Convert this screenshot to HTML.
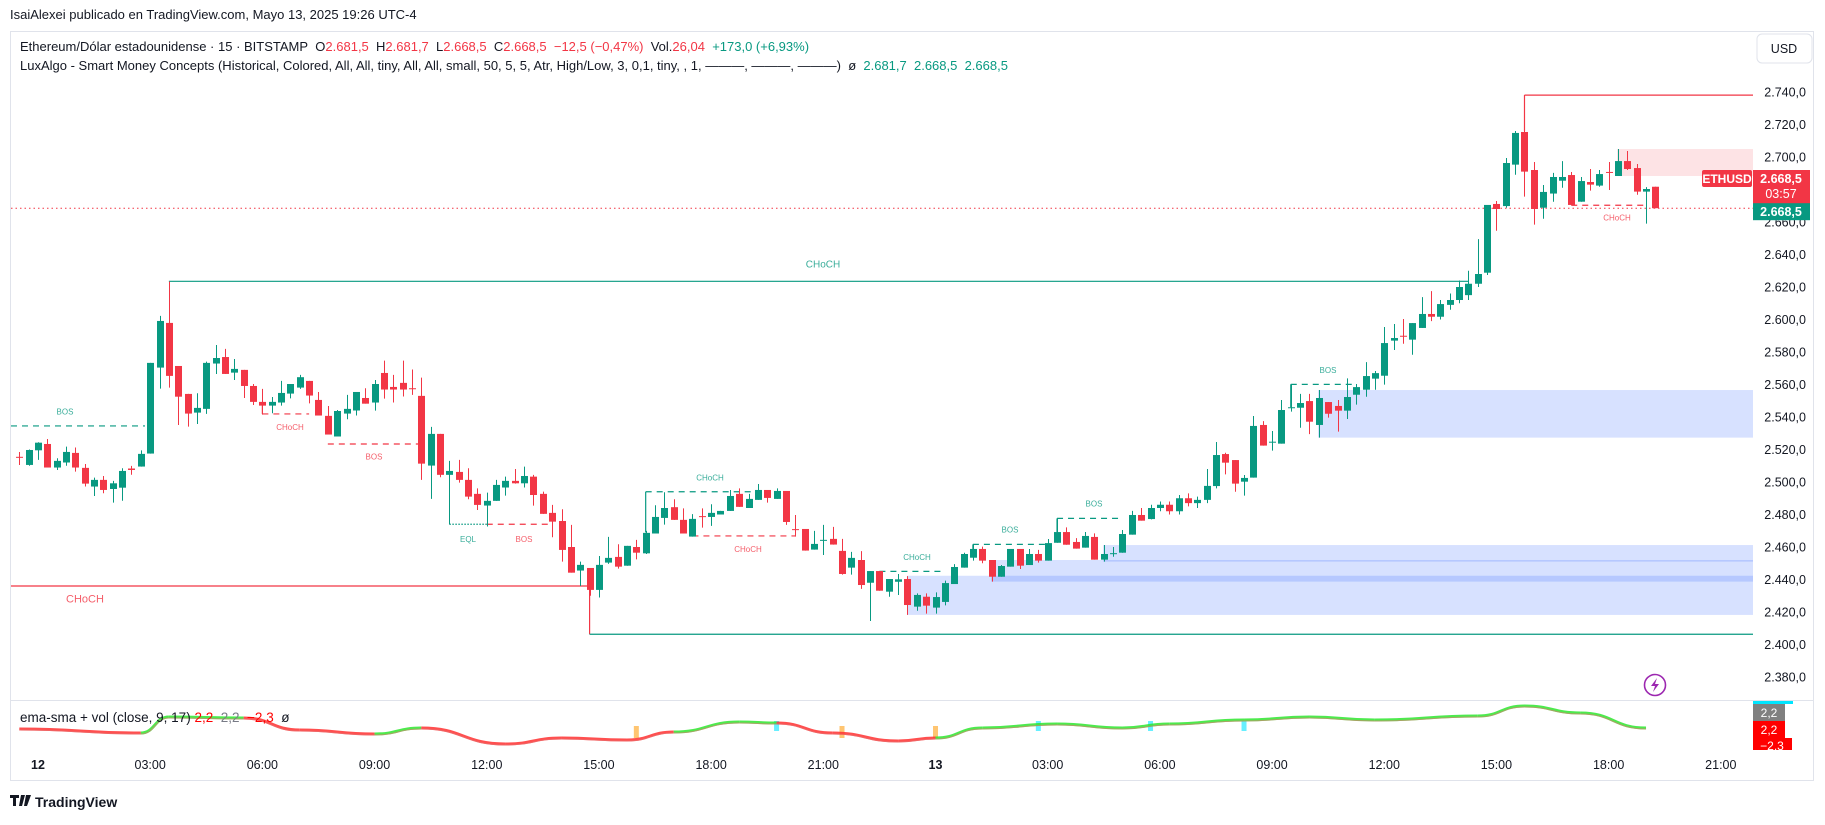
<!DOCTYPE html>
<html><head><meta charset="utf-8">
<style>
html,body{margin:0;padding:0;background:#fff;}
body{width:1825px;height:820px;overflow:hidden;position:relative;font-family:"Liberation Sans",sans-serif;}
svg text{font-family:"Liberation Sans",sans-serif;}
</style></head>
<body>
<svg id="chart" width="1825" height="820" viewBox="0 0 1825 820" xmlns="http://www.w3.org/2000/svg">
  <text x="10" y="19" font-size="13" fill="#131722">IsaiAlexei publicado en TradingView.com, Mayo 13, 2025 19:26 UTC-4</text>
  <rect x="10.5" y="31.5" width="1803" height="749" fill="none" stroke="#e0e3eb" stroke-width="1"/>
  <g font-size="13">
    <text x="20" y="51" fill="#131722">Ethereum/Dólar estadounidense · 15 · BITSTAMP&#160;&#160;O<tspan fill="#f23645">2.681,5</tspan>&#160;&#160;H<tspan fill="#f23645">2.681,7</tspan>&#160;&#160;L<tspan fill="#f23645">2.668,5</tspan>&#160;&#160;C<tspan fill="#f23645">2.668,5</tspan>&#160;&#160;<tspan fill="#f23645">−12,5 (−0,47%)</tspan>&#160;&#160;Vol.<tspan fill="#f23645">26,04</tspan>&#160;&#160;<tspan fill="#089981">+173,0 (+6,93%)</tspan></text>
  </g>
  <g font-size="13">
    <text x="20" y="70" fill="#131722">LuxAlgo - Smart Money Concepts (Historical, Colored, All, All, tiny, All, All, small, 50, 5, 5, Atr, High/Low, 3, 0,1, tiny, , 1, ———, ———, ———)&#160;&#160;ø&#160;&#160;<tspan fill="#089981">2.681,7&#160;&#160;2.668,5&#160;&#160;2.668,5</tspan></text>
  </g>
  <g>
    <rect x="1757" y="34" width="55" height="29" rx="5" fill="#fff" stroke="#e0e3eb"/>
    <text x="1784" y="53" font-size="12.5" text-anchor="middle" fill="#131722">USD</text>
  </g>
  <g id="zones"></g>
  <g id="smc"></g>
  <g id="candles"></g>
  <g id="yaxis"></g>
  <g id="xaxis"></g>
  <line x1="11" y1="700.5" x2="1813" y2="700.5" stroke="#e0e3eb"/>
  <g id="ind"></g>
  <text x="20" y="722" font-size="13.5" fill="#131722">ema-sma + vol (close, 9, 17)&#160;<tspan fill="#ff0000">2,2</tspan>&#160;&#160;<tspan fill="#787b86">2,2</tspan>&#160;&#160;<tspan fill="#ff0000">−2,3</tspan>&#160;&#160;ø</text>
  <g>
    <rect x="1753" y="701" width="40" height="3" fill="#00e5ff"/>
    <rect x="1753" y="704" width="32" height="17" fill="#808080"/><text x="1769" y="717" font-size="12" fill="#fff" text-anchor="middle">2,2</text>
    <rect x="1753" y="721" width="32" height="17" fill="#ff0000"/><text x="1769" y="734" font-size="12" fill="#fff" text-anchor="middle">2,2</text>
    <rect x="1753" y="738" width="39" height="12" fill="#ff0000"/><text x="1772" y="750" font-size="12" fill="#fff" text-anchor="middle">−2,3</text>
  </g>
  <g>
    <circle cx="1655" cy="685" r="10.5" fill="none" stroke="#9c27b0" stroke-width="1.6"/>
    <path d="M1657 678 L1651 686 L1655 686 L1653 692 L1659 684 L1655 684 Z" fill="#9c27b0"/>
  </g>
  <g>
    <path d="M10 795 h9 v3 h-3 v8 h-3 v-8 h-3 z M21 795 h4 l-3 11 h-3 z M26 795 l-2 11 h3 l4 -11 z" fill="#131722"/>
    <text x="35" y="807" font-size="14" font-weight="bold" fill="#131722">TradingView</text>
  </g>
</svg>
<script>
const opens=[2515.5,2510.5,2519.5,2523.4,2508.9,2512,2517.9,2508.7,2497.2,2501.3,2495.7,2496.5,2508.3,2509.5,2517.5,2570.4,2597.9,2571.4,2554.2,2542.7,2545,2572.9,2576.9,2567.3,2569,2559.1,2549.3,2547,2548.9,2554.4,2558.1,2562.2,2550.5,2540.7,2528,2542.1,2544,2551.7,2548.9,2567.1,2558.5,2561,2557.7,2553,2510.1,2529.6,2504.4,2506.2,2501.3,2492.7,2485.5,2488.4,2496.6,2500.7,2499.2,2503.3,2492.7,2481,2476,2460,2445.5,2447.1,2433.6,2450.4,2453.9,2448.5,2460,2456.1,2468.3,2477.9,2484.5,2476.7,2466.4,2479,2478.5,2480,2482.2,2492.7,2484,2489,2495.1,2489.6,2494.5,2471,2471.1,2458.4,2464,2465,2457.6,2447.3,2452,2438,2445.2,2432.5,2438.6,2440.3,2423.3,2429.4,2422.7,2426.2,2437.2,2447.3,2453.4,2458.8,2452,2441.7,2447.9,2458.8,2448.9,2455.7,2451.6,2462.6,2469.2,2463.1,2459.6,2466.2,2452.2,2455.6,2456.5,2467.6,2479.7,2477.2,2484,2486,2482,2490,2487,2489,2497.5,2517.2,2513.5,2500.2,2502.7,2535.1,2524.4,2523.6,2545.8,2545.7,2549.8,2535.1,2549.2,2546.8,2543.9,2553.7,2556.8,2563.6,2565.4,2587,2590,2587.6,2594.8,2603.4,2601.7,2609,2612,2615,2622,2628.8,2671.1,2669.8,2695.3,2715.4,2692,2668.8,2677.5,2685.4,2688.9,2672.5,2684.6,2682.4,2690.8,2688.3,2697.5,2693.2,2678.7,2681.7];
const highs=[2518.5,2520,2524.5,2526.5,2514.6,2521.8,2521.2,2511.1,2502.7,2503.7,2500.7,2508.5,2509.9,2519.5,2573.3,2602.2,2623.3,2571.4,2554.2,2554.6,2574.1,2584.3,2581.9,2575.7,2569,2560.3,2557.3,2552.3,2562.2,2560.3,2565.9,2562.2,2555.4,2546.8,2544.3,2553.6,2555.4,2557.7,2562.8,2574.7,2565.9,2574.7,2569.2,2564.2,2533.9,2529.6,2513,2513.6,2508.5,2496.1,2493.5,2501.3,2503.3,2508,2509.5,2504.4,2494.1,2485.9,2483.2,2473.6,2451,2447.1,2454.5,2466.2,2461.7,2460.7,2464.4,2469.9,2485.7,2493.7,2489.4,2483.8,2480.2,2483.8,2486.3,2482.2,2495.1,2496.1,2492.7,2498.8,2495.1,2496.1,2494.5,2479.7,2471.1,2469.9,2473.6,2472.4,2465,2457,2457.5,2445.2,2445.2,2440.3,2443.4,2442.1,2431.5,2431.5,2432.1,2439.3,2449.5,2456.5,2461.8,2460.2,2452,2448.9,2458.8,2458.8,2458.8,2458.2,2464.9,2477.6,2472.1,2465.5,2469.2,2468.4,2461.2,2460,2470.5,2482.2,2484,2486,2488,2488,2492,2493,2491,2508,2524.6,2518,2513.5,2504.3,2540.6,2537.5,2531.4,2550.5,2560.3,2554.2,2554.2,2556.6,2549.2,2550.5,2563.8,2560.3,2573.8,2568.3,2595.4,2597.2,2600.3,2597.8,2613.8,2617.5,2612,2616,2624,2630,2649.5,2670.5,2672.9,2699.4,2716,2738.1,2696.9,2682.8,2690.2,2697.5,2690.8,2687.7,2692.6,2692,2696.9,2704.9,2703.7,2695.7,2681.5,2681.7];
const lows=[2510.5,2510,2513.6,2508.9,2507.4,2510,2506.4,2497.2,2491.4,2493.1,2487.3,2488.5,2504.5,2509.5,2517.5,2557.5,2558.1,2535.1,2534.1,2535.7,2541.9,2566.5,2566.5,2562.8,2551.7,2547.4,2541.5,2542.3,2547,2551.5,2557.3,2548.4,2540.9,2529.2,2528,2538.6,2540.9,2548.2,2543.9,2551.3,2548.9,2552.6,2553.6,2501.3,2489.6,2502.9,2474,2499.6,2489.4,2482.8,2472.6,2488.4,2491.6,2499,2496.6,2485.5,2480.4,2466,2451,2444.2,2436,2430,2428.9,2449.6,2446.7,2448.5,2452.4,2455.7,2468.3,2473.8,2476.7,2468.3,2466.4,2471.9,2473,2480,2482.2,2484.7,2484,2489,2487.3,2489.6,2473.6,2466.4,2457.8,2458.4,2455.1,2461.5,2443,2443,2434.2,2414.5,2433.1,2429.4,2430.5,2418.2,2420.8,2419,2419,2424.1,2437.2,2447.3,2451.6,2450,2438.7,2441.7,2447.9,2446.5,2448.9,2450.4,2451.6,2462.6,2461.4,2459,2459.6,2452.2,2451,2454,2456.5,2467.6,2476.2,2477,2482,2480,2480,2485,2484,2487,2496.1,2504.7,2494,2491.6,2502.7,2522.4,2519.3,2523.6,2543.3,2533.4,2529.5,2527.3,2539.6,2531,2538.8,2547.6,2552.5,2556.8,2559.9,2581.2,2585.1,2578.3,2594.8,2599,2600,2606,2610,2612,2620,2627.4,2654.6,2668.8,2689.1,2675.6,2658.4,2662,2672.5,2681.1,2670.5,2672.5,2679.3,2681.7,2679.7,2688.3,2692,2676.8,2659,2668.5];
const closes=[2515,2519.7,2524.2,2508.9,2513,2518.5,2508.9,2499,2501.3,2495.1,2499.2,2506.8,2507.4,2517.3,2573.3,2599.1,2565.3,2552.5,2542.1,2545.6,2573.3,2576.3,2566.5,2569.6,2559.1,2549.3,2547,2549.3,2554.8,2560.3,2564.5,2553.2,2540.9,2529.2,2543.7,2545,2555.4,2548.2,2560.3,2556.9,2556.9,2556.9,2557.3,2511.3,2529.6,2504.4,2506.8,2501.3,2491,2485.9,2488.4,2498.2,2500.7,2499.2,2503.7,2492,2480.4,2475.6,2458.2,2444.2,2449,2433.6,2449,2453.3,2447.9,2460.7,2456.5,2468.7,2478.5,2484,2476.7,2468.3,2477.3,2478.6,2481,2482.2,2491.4,2484.7,2489.6,2495.1,2490.2,2494.5,2475.4,2470.5,2457.8,2461.9,2464.4,2461.5,2443.4,2453.3,2436.6,2445.2,2433.1,2440.3,2440.1,2424.3,2430.5,2423.9,2429.2,2437.8,2447.7,2455.7,2458.8,2451.6,2441.7,2448.3,2458.8,2448.5,2455.7,2451.6,2462.4,2469.2,2461.4,2459,2466.8,2452.2,2455.7,2456.2,2468,2479.7,2476.2,2484,2486,2482,2490,2487,2489,2497.6,2516.6,2511.9,2499,2502.5,2534.5,2522.4,2524.8,2544.3,2546,2548.6,2537.1,2551.7,2542,2543.9,2552.3,2558.4,2565.2,2567,2585.5,2588.6,2589.7,2597.8,2603.4,2601.7,2609.5,2612,2620,2622,2628,2670.5,2668,2696.3,2714.8,2691,2668,2678.5,2687.7,2687.7,2670.5,2685.2,2683,2689.5,2690.4,2697.5,2692.6,2678.7,2680.3,2668.5];
const priceTicks=[2380,2400,2420,2440,2460,2480,2500,2520,2540,2560,2580,2600,2620,2640,2660,2680,2700,2720,2740];
const timeLabels=["12","03:00","06:00","09:00","12:00","15:00","18:00","21:00","13","03:00","06:00","09:00","12:00","15:00","18:00","21:00"];
const timeLabelIdx=[2,14,26,38,50,62,74,86,98,110,122,134,146,158,170,182];
const indIdx=[0,13,16,24,30,38,43,52,58,65,70,77,81,87,94,98,103,111,118,123,131,138,145,156,161,167,174];
const indVals=[1,-3,13,12,0,-4,2,-14,-8,-10,-2,8,7,-3,-11,-8,2,6,2,6,10,13,10,14,24,17,2];
const indUp=[0,1,1,0,0,1,0,0,0,0,1,1,0,0,0,1,1,1,1,1,1,1,1,1,1,1];
const volOrangeIdx=[66,88,98];
const volCyanIdx=[81,109,121,131];

const NS="http://www.w3.org/2000/svg";
const PLOT_R=1753;
function x(i){return 19.3+i*9.349;}
function y(p){return 92+(2740-p)*1.625;}
function yi(v){return 730-v;}
function mk(tag,attrs,parent){const e=document.createElementNS(NS,tag);for(const k in attrs)e.setAttribute(k,attrs[k]);parent.appendChild(e);return e;}
const G="#089981",R="#f23645";

const zg=document.getElementById('zones');
const zoneDefs=[[907,2442.3,2418.2,'rgba(41,98,255,0.19)'],[991,2452,2438.7,'rgba(41,98,255,0.19)'],[1103,2461.2,2451,'rgba(41,98,255,0.19)'],[1318,2556.6,2527.3,'rgba(41,98,255,0.19)'],[1617,2704.9,2688.3,'rgba(242,54,69,0.14)']];
zoneDefs.forEach(z=>{
  const r=mk('rect',{x:z[0],y:y(z[1]),width:PLOT_R-z[0],height:y(z[2])-y(z[1]),fill:z[3]},zg);
  
  
});

const sg=document.getElementById('smc');
function hline(x1,x2,p,col,dash,name){
  const l=mk('line',{x1:x1,x2:x2,y1:y(p),y2:y(p),stroke:col,'stroke-width':1.2},sg);
  if(dash)l.setAttribute('stroke-dasharray',dash);
  
  
}
function vline(xx,p1,p2,col,name){
  const l=mk('line',{x1:xx,x2:xx,y1:y(p1),y2:y(p2),stroke:col,'stroke-width':1.2},sg);
  
  
}
function lab(xx,p,t,col,fs){
  const e=mk('text',{x:xx,y:y(p),'font-size':fs||8,fill:col,'text-anchor':'middle','fill-opacity':0.8},sg);
  e.textContent=t;
  
  
}
const D="6,5";
hline(11,145,2534.5,G,D,'bos-line');lab(65,2541.5,'BOS',G);
hline(11,x(61),2436,R,null,'choch-line');lab(85,2426,'CHoCH',R,11);
hline(x(16),x(155),2623.5,G,null,'choch-line-major');lab(823,2632,'CHoCH',G,10);
hline(x(26),x(31),2541.9,R,D,'choch-line');vline(x(26),2541.9,2547,R,'choch-tick');lab(290,2532,'CHoCH',R);
hline(x(33),x(43),2523.4,R,D,'bos-line');lab(374,2514,'BOS',R);
hline(x(46),x(50),2474,G,'1.5,1.5','eql-line');lab(468,2463,'EQL',G);
hline(x(50),x(57),2474,R,D,'bos-line');lab(524,2463,'BOS',R);
vline(x(61),2436,2406.3,R,'choch-vertical');
hline(x(61),PLOT_R,2406.3,G,null,'support-line');
hline(x(67),x(80),2494,G,D,'choch-line');vline(x(67),2469,2494,G,'choch-tick');lab(710,2501,'CHoCH',G);
hline(x(72),x(83),2466.8,R,D,'choch-line');lab(748,2457,'CHoCH',R);
hline(x(92),x(99),2445,G,D,'choch-line');lab(917,2452,'CHoCH',G);
hline(x(102),x(110),2461.6,G,D,'bos-line');vline(x(102),2458.8,2461.6,G,'bos-tick');lab(1010,2469,'BOS',G);
hline(x(111),x(118),2477.6,G,D,'bos-line');vline(x(111),2469.2,2477.6,G,'bos-tick');lab(1094,2485,'BOS',G);
hline(x(136),x(143),2560.1,G,D,'bos-line');vline(x(136),2546,2560.1,G,'bos-tick');lab(1328,2567,'BOS',G);
hline(x(166),x(174),2670.3,R,D,'choch-line');lab(1617,2661,'CHoCH',R);
vline(x(161),2716,2738.1,R,'top-vertical');
hline(x(161),PLOT_R,2738.1,R,null,'strong-high-line');
const cp=mk('line',{x1:11,x2:PLOT_R,y1:y(closes[closes.length-1]),y2:y(closes[closes.length-1]),stroke:R,'stroke-width':1,'stroke-dasharray':'1.5,3'},sg);



const cg=document.getElementById('candles');
for(let i=0;i<closes.length;i++){
  const up=closes[i]>=opens[i];const col=up?G:R;
  const g=mk('g',{},cg);
  
  
  const cx=Math.round(x(i))+0.5;
  mk('line',{x1:cx,x2:cx,y1:y(highs[i]),y2:y(lows[i]),stroke:col,'stroke-width':1},g);
  const t=y(Math.max(opens[i],closes[i])),b=y(Math.min(opens[i],closes[i]));
  mk('rect',{x:cx-3.5,y:t,width:7,height:Math.max(1,b-t),fill:col},g);
}

const ya=document.getElementById('yaxis');
priceTicks.forEach(p=>{
  const t=mk('text',{x:1806,y:y(p)+4.5,'font-size':12.5,fill:'#131722','text-anchor':'end'},ya);
  t.textContent=p.toLocaleString('de-DE',{minimumFractionDigits:1,maximumFractionDigits:1});
  
  
});
const yc=y(closes[closes.length-1]);
const pl=mk('g',{},ya);


mk('rect',{x:1702,y:170,width:50,height:17,fill:R,rx:2},pl);
let tt=mk('text',{x:1727,y:183,'font-size':12,'font-weight':'bold',fill:'#fff','text-anchor':'middle'},pl);tt.textContent='ETHUSD';
mk('rect',{x:1753,y:170,width:57,height:yc-170+3,fill:R},pl);
tt=mk('text',{x:1781,y:183,'font-size':12.5,'font-weight':'bold',fill:'#fff','text-anchor':'middle'},pl);tt.textContent='2.668,5';
tt=mk('text',{x:1781,y:198,'font-size':12.5,fill:'#fff','text-anchor':'middle'},pl);tt.textContent='03:57';
mk('rect',{x:1753,y:yc-5,width:57,height:17,fill:G},pl);
tt=mk('text',{x:1781,y:yc+8,'font-size':12.5,'font-weight':'bold',fill:'#fff','text-anchor':'middle'},pl);tt.textContent='2.668,5';

const xa=document.getElementById('xaxis');
timeLabels.forEach((l,k)=>{
  const t=mk('text',{x:x(timeLabelIdx[k]),y:769,'font-size':12.5,fill:'#131722','text-anchor':'middle','font-weight':(l.length<3?'bold':'normal')},xa);
  t.textContent=l;
  
  
});

const ig=document.getElementById('ind');
volOrangeIdx.forEach(i=>{
  const r=mk('rect',{x:x(i)-2.5,y:726,width:5,height:12,fill:'#ffb74d','fill-opacity':0.8},ig);
  
  
});
volCyanIdx.forEach(i=>{
  const r=mk('rect',{x:x(i)-2.5,y:721,width:5,height:10,fill:'#00e5ff','fill-opacity':0.6},ig);
  
  
});
for(let k=0;k<indIdx.length-1;k++){
  const x1=x(indIdx[k]),x2=x(indIdx[k+1]),y1=yi(indVals[k]),y2=yi(indVals[k+1]);
  const mx=(x1+x2)/2;
  const col=indUp[k]?'#2ee62e':'#ff3030';
  const p=mk('path',{d:`M${x1},${y1} C${mx},${y1} ${mx},${y2} ${x2},${y2}`,fill:'none',stroke:col,'stroke-width':3,'stroke-opacity':0.85},ig);
  
  
  const p2=mk('path',{d:`M${x1},${y1+1} C${mx},${y1+1} ${mx},${y2+1} ${x2},${y2+1}`,fill:'none',stroke:'#e57373','stroke-width':1,'stroke-opacity':0.6},ig);
  
  
}
</script>
</body></html>
